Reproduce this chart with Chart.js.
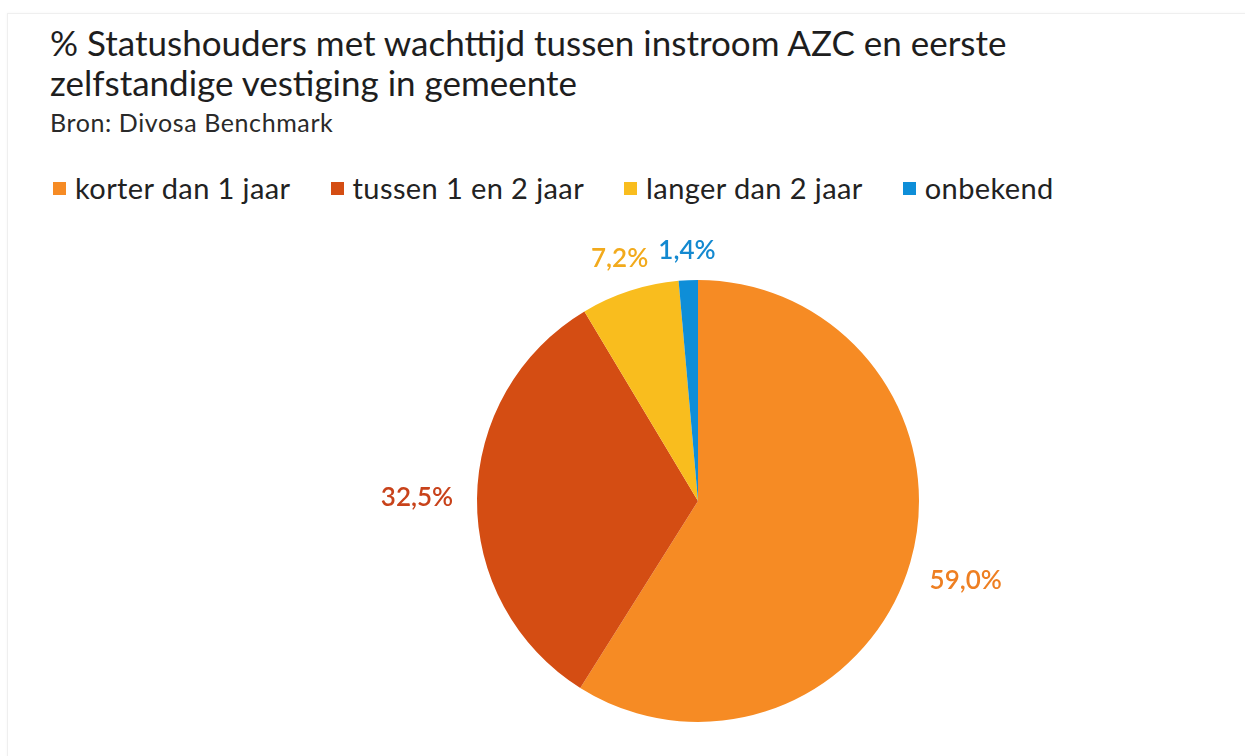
<!DOCTYPE html>
<html>
<head>
<meta charset="utf-8">
<script src="https://cdn.jsdelivr.net/npm/chart.js@4"></script>
<style>
  html, body { margin: 0; padding: 0; background: #fff; overflow: hidden; }
  body { width: 1245px; height: 756px; position: relative; font-family: Lato, "Open Sans", sans-serif; color: #1e1e1e; }
  .frame { position: absolute; left: 7px; top: 13px; width: 1250px; height: 760px; border: 1px solid #efefef; box-shadow: 0 0 3px rgba(0,0,0,0.04); }
  .title { position: absolute; left: 50px; top: 22px; font-size: 35px; line-height: 40px; font-weight: 400; }
  .source { position: absolute; left: 50px; top: 107px; font-size: 25px; line-height: 30px; letter-spacing: 0.6px; color: #2a2a2a; }
  .legend { position: absolute; left: 53px; top: 169px; display: flex; font-size: 29px; line-height: 38px; letter-spacing: 0.4px; color: #222; }
  .legend .item { display: flex; align-items: center; margin-right: 40px; }
  .legend .box { width: 13px; height: 13px; margin-right: 9px; }
  #chart { position: absolute; left: 298px; top: 226px; }
</style>
</head>
<body>
<div class="frame"></div>
<div class="title">% Statushouders met wachttijd tussen instroom AZC en eerste<br>zelfstandige vestiging in gemeente</div>
<div class="source">Bron: Divosa Benchmark</div>
<div class="legend" id="legend"></div>
<canvas id="chart" width="800" height="550"></canvas>
<script>
  // data
  var categories = ['korter dan 1 jaar', 'tussen 1 en 2 jaar', 'langer dan 2 jaar', 'onbekend'];
  var shares = [59.0, 32.5, 7.2, 1.4];

  var sliceColors = ['#f68b24', '#d44d13', '#f9bd1e', '#0e8ed8'];
  var labelColors = ['#ee7f22', '#c8421a', '#f2aa1c', '#1389d0'];

  // legend
  var legend = document.getElementById('legend');
  categories.forEach(function (name, i) {
    var item = document.createElement('div');
    item.className = 'item';
    var box = document.createElement('span');
    box.className = 'box';
    box.style.background = sliceColors[i];
    item.appendChild(box);
    item.appendChild(document.createTextNode(name));
    legend.appendChild(item);
  });

  // percentage labels outside the slices
  var outsideLabels = {
    id: 'outsideLabels',
    afterDatasetsDraw: function (chart) {
      var ctx = chart.ctx;
      var meta = chart.getDatasetMeta(0);
      ctx.save();
      ctx.font = '600 26px Lato, "Open Sans", sans-serif';
      ctx.textAlign = 'center';
      ctx.textBaseline = 'middle';
      meta.data.forEach(function (arc, i) {
        var p = arc.getProps(['x', 'y', 'startAngle', 'endAngle', 'outerRadius'], true);
        var mid = (p.startAngle + p.endAngle) / 2;
        var c = Math.cos(mid), s = Math.sin(mid);
        var d = p.outerRadius + 30 + 30 * c * c;
        ctx.fillStyle = labelColors[i];
        ctx.fillText(shares[i].toFixed(1).replace('.', ',') + '%', p.x + c * d, p.y + s * d + 10 * s * c * c);
      });
      ctx.restore();
    }
  };

  var chart = new Chart(document.getElementById('chart').getContext('2d'), {
    type: 'pie',
    data: {
      labels: categories,
      datasets: [{
        data: shares,
        backgroundColor: sliceColors,
        borderWidth: 0,
        radius: 221
      }]
    },
    options: {
      responsive: false,
      animation: false,
      plugins: {
        legend: { display: false },
        tooltip: { enabled: false }
      }
    },
    plugins: [outsideLabels]
  });
</script>
</body>
</html>
